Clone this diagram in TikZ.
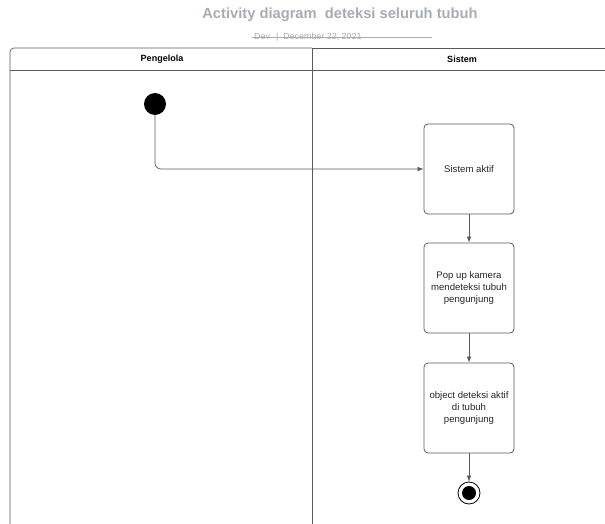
\documentclass[tikz,border=0pt]{standalone}
\usepackage{fontspec}
\setmainfont{Liberation Sans}
\usetikzlibrary{arrows.meta}
\definecolor{ttl}{HTML}{A7ABB3}
\definecolor{ln}{HTML}{5A5A5A}
\tikzset{
  act/.style={draw=ln, line width=0.8pt, rounded corners=4pt, minimum width=90pt, minimum height=90pt, align=center, font=\fontsize{9.6}{12}\selectfont, text=black!85},
  flow/.style={draw=ln, line width=0.7pt, -{Latex[length=6pt,width=4.5pt]}},
  lane/.style={draw=ln, line width=0.7pt},
  hdr/.style={font=\bfseries\fontsize{9}{10}\selectfont}
}
\begin{document}
\begin{tikzpicture}[x=1pt,y=-1pt]
\useasboundingbox (0,0) rectangle (605,524);
\begin{scope}
\clip (0,0) rectangle (605,524);
% lanes
\draw[lane, rounded corners=4pt] (10,530) -- (10,48) -- (312,48);
\draw[lane] (312,48) -- (312,530);
\draw[lane, rounded corners=4pt] (312,48) -- (620,48);
\draw[lane] (10,70) -- (620,70);
\end{scope}
\node[hdr] (h1) at (162,59) {Pengelola};
\node[hdr] (h2) at (462,59) {Sistem};
% title
\node[font=\bfseries\fontsize{14.7}{17}\selectfont, text=ttl] (title) at (340,15) {Activity diagram\ \ deteksi seluruh tubuh};
\node[font=\fontsize{8.9}{9}\selectfont, text=ttl, anchor=base west, inner sep=0pt] (sub) at (254,39.6) {Dev\hspace{6pt}\textbar\hspace{5pt}December 22, 2021};
\draw[ttl, line width=0.6pt] (252,37) -- (432,37);
% start
\node[circle, fill=black, minimum size=22pt, inner sep=0pt] (start) at (155,104) {};
% activities
\node[act] (a1) at (469,169) {Sistem aktif};
\node[act] (a2) at (469,288) {Pop up kamera\\mendeteksi tubuh\\pengunjung};
\node[act] (a3) at (469,408) {object deteksi aktif\\di tubuh\\pengunjung};
% end
\node[circle, draw=black, line width=0.8pt, minimum size=22pt, inner sep=0pt] (end) at (469,493) {};
\node[circle, fill=black, minimum size=14pt, inner sep=0pt] (endin) at (469,493) {};
% flows
\draw[flow, rounded corners=6pt] (start.south) |- (a1.west);
\draw[flow] (a1) -- (a2);
\draw[flow] (a2) -- (a3);
\draw[flow] (a3) -- (end);
\end{tikzpicture}
\end{document}
